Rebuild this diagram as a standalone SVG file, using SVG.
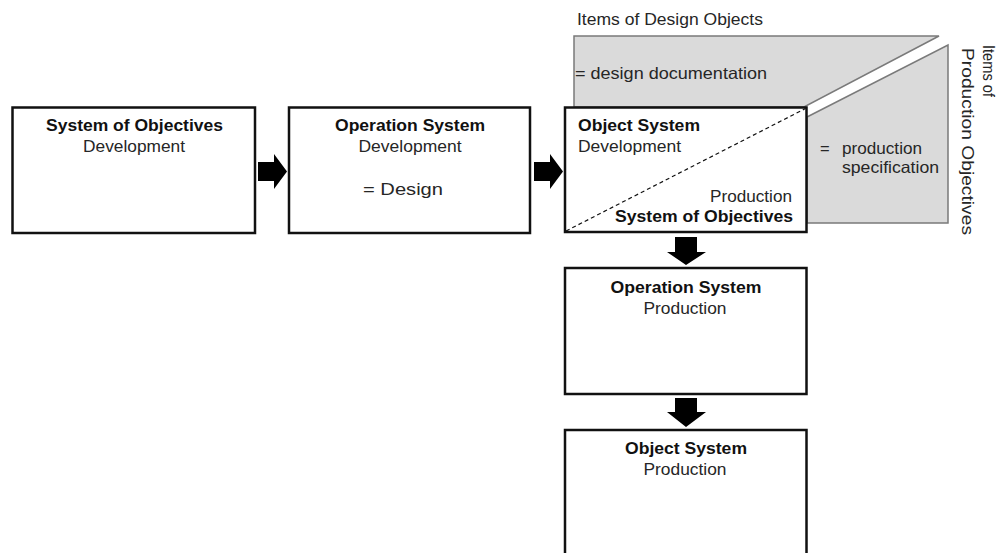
<svg xmlns="http://www.w3.org/2000/svg" width="1005" height="553" viewBox="0 0 1005 553">
  <style>
    .box { fill: #ffffff; stroke: #111111; stroke-width: 2.5; }
    .item { fill: #dadada; stroke: #7a7a7a; stroke-width: 1.5; stroke-linejoin: miter; }
    .arrow { fill: #000000; }
    text { font-family: "Liberation Sans", Arial, sans-serif; font-size: 16.5px; fill: #262626; }
    .b { font-weight: bold; fill: #111111; }
    .mid { text-anchor: middle; }
    .end { text-anchor: end; }
  </style>
  <rect width="1005" height="553" fill="#ffffff"/>

  <!-- item areas behind the development object system -->
  <g id="items-design">
    <polygon class="item" points="574,36 939,36 804,107 574,107"/>
    <text x="577" y="24.5" textLength="186" lengthAdjust="spacingAndGlyphs">Items of Design Objects</text>
    <text x="575" y="79" textLength="192" lengthAdjust="spacingAndGlyphs">= design documentation</text>
  </g>
  <g id="items-production">
    <polygon class="item" points="807,117 948,45 948,223 807,223"/>
    <text x="820" y="154">=</text>
    <text x="842" y="154" textLength="80" lengthAdjust="spacingAndGlyphs">production</text>
    <text x="842" y="173" textLength="97" lengthAdjust="spacingAndGlyphs">specification</text>
    <text transform="translate(982.5,45) rotate(90)" textLength="52" lengthAdjust="spacingAndGlyphs">Items of</text>
    <text transform="translate(962,48) rotate(90)" textLength="187" lengthAdjust="spacingAndGlyphs">Production Objectives</text>
  </g>

  <!-- connectors -->
  <g id="connectors">
    <polygon class="arrow" points="258,162 274,162 274,154 287,171.5 274,189 274,181 258,181"/>
    <polygon class="arrow" points="534,162 550,162 550,154 563,171.5 550,189 550,181 534,181"/>
    <polygon class="arrow" points="675,237 697,237 697,252 706,252 686,265 667,252 675,252"/>
    <polygon class="arrow" points="675,398 697,398 697,412 706,412 686,427 667,412 675,412"/>
  </g>

  <g id="objectives-development">
    <rect class="box" x="12.5" y="107.5" width="242.5" height="125.5"/>
    <text class="b mid" x="134.5" y="131" textLength="177" lengthAdjust="spacingAndGlyphs">System of Objectives</text>
    <text class="mid" x="134" y="152" textLength="102" lengthAdjust="spacingAndGlyphs">Development</text>
  </g>

  <g id="operation-development">
    <rect class="box" x="289" y="107.5" width="241" height="125.5"/>
    <text class="b mid" x="410" y="131" textLength="150" lengthAdjust="spacingAndGlyphs">Operation System</text>
    <text class="mid" x="410" y="152" textLength="103" lengthAdjust="spacingAndGlyphs">Development</text>
    <text class="mid" x="403" y="195" textLength="80" lengthAdjust="spacingAndGlyphs">= Design</text>
  </g>

  <g id="object-development">
    <rect class="box" x="565" y="107.5" width="241.5" height="124.5"/>
    <line x1="566" y1="231" x2="805.5" y2="108.5" stroke="#111111" stroke-width="1.2" stroke-dasharray="4,3"/>
    <text class="b" x="578" y="131" textLength="122" lengthAdjust="spacingAndGlyphs">Object System</text>
    <text x="578" y="152" textLength="103" lengthAdjust="spacingAndGlyphs">Development</text>
    <text class="end" x="792" y="202" textLength="82" lengthAdjust="spacingAndGlyphs">Production</text>
    <text class="b end" x="793" y="222" textLength="178" lengthAdjust="spacingAndGlyphs">System of Objectives</text>
  </g>

  <g id="operation-production">
    <rect class="box" x="565" y="268" width="241.5" height="126"/>
    <text class="b mid" x="686" y="293" textLength="151" lengthAdjust="spacingAndGlyphs">Operation System</text>
    <text class="mid" x="685" y="314" textLength="83" lengthAdjust="spacingAndGlyphs">Production</text>
  </g>

  <g id="object-production">
    <rect class="box" x="565" y="430" width="241.5" height="135"/>
    <text class="b mid" x="686" y="454" textLength="122" lengthAdjust="spacingAndGlyphs">Object System</text>
    <text class="mid" x="685" y="475" textLength="83" lengthAdjust="spacingAndGlyphs">Production</text>
  </g>
</svg>
